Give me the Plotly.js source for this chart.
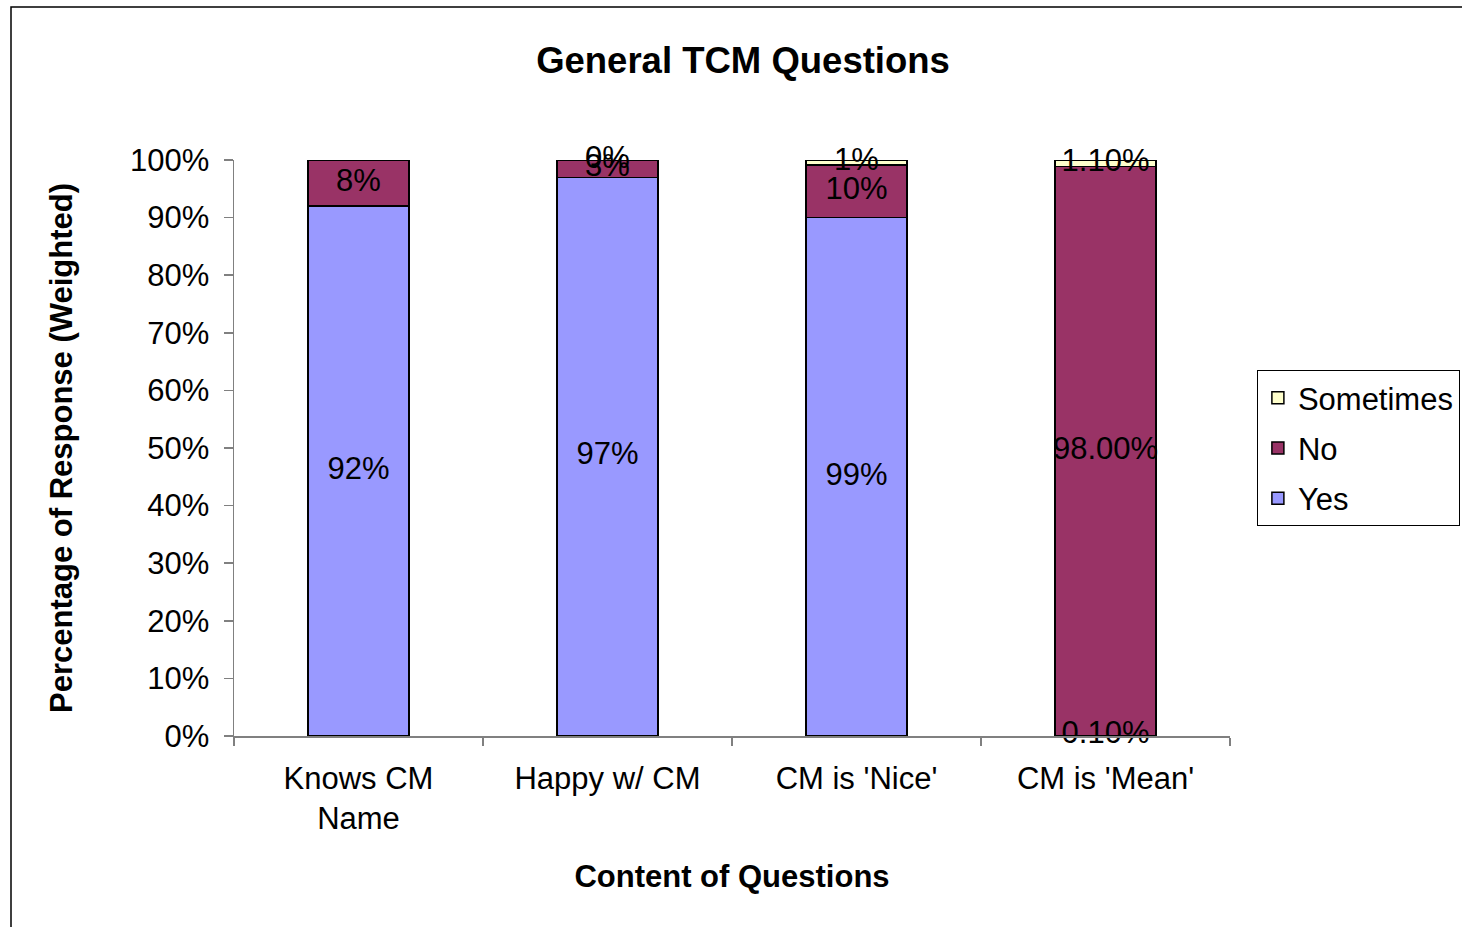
<!DOCTYPE html>
<html>
<head>
<meta charset="utf-8">
<script src="https://cdn.plot.ly/plotly-3.0.1.min.js"></script>
<style>
html,body{margin:0;padding:0;background:#fff;}
#chart{width:1462px;height:927px;}
</style>
</head>
<body>
<div id="chart"></div>
<script>
// ---- data ----
const categories = ["Knows CM<br>Name", "Happy w/ CM", "CM is 'Nice'", "CM is 'Mean'"];
const yesValues = [92, 97, 99, 0.10];
const noValues = [8, 3, 10, 98.00];
const sometimesValues = [0, 0, 1, 1.10];
const yesLabels = ["92%", "97%", "99%", "0.10%"];
const noLabels = ["8%", "3%", "10%", "98.00%"];
const sometimesLabels = ["", "0%", "1%", "1.10%"];
const yTickValues = [0, 10, 20, 30, 40, 50, 60, 70, 80, 90, 100];
const yTickLabels = ["0%", "10%", "20%", "30%", "40%", "50%", "60%", "70%", "80%", "90%", "100%"];

const FONT = "'Liberation Sans', Arial, 'DejaVu Sans', sans-serif";
const colYes = "#9999FF", colNo = "#993366", colSome = "#FFFFCC";
const FS = 31;

// midpoints of normalized (100% stacked) segments for value labels
const totals = categories.map((c, i) => yesValues[i] + noValues[i] + sometimesValues[i]);
const yesMid = [], noMid = [], someMid = [];
categories.forEach((c, i) => {
  const y = yesValues[i] / totals[i] * 100;
  const n = noValues[i] / totals[i] * 100;
  const s = sometimesValues[i] / totals[i] * 100;
  yesMid.push(y / 2);
  noMid.push(y + n / 2);
  someMid.push(y + n + s / 2);
});

const barCommon = {
  type: 'bar', x: categories, width: 0.405,
  hoverinfo: 'skip', textposition: 'none'
};
const txt = (y, t) => ({type: 'scatter', mode: 'text', x: categories, y: y, text: t, showlegend: false,
  hoverinfo: 'skip', textposition: 'middle center', textfont: {family: FONT, size: FS, color: '#000'}, cliponaxis: false});
const traces = [
  Object.assign({}, barCommon, {name: 'Yes', legendgroup: 'g1', legendrank: 3, y: yesValues, marker: {color: colYes, line: {color: '#000', width: 1.5}}}),
  Object.assign({}, barCommon, {name: 'No', legendgroup: 'g2', legendrank: 2, y: noValues, marker: {color: colNo, line: {color: '#000', width: 1.5}}}),
  Object.assign({}, barCommon, {name: 'Sometimes', legendgroup: 'g3', legendrank: 1, y: sometimesValues, marker: {color: colSome, line: {color: '#000', width: 1.5}}}),
  txt(yesMid, yesLabels), txt(noMid, noLabels), txt(someMid, sometimesLabels)
];

const layout = {
  width: 1462, height: 927,
  margin: {l: 234, r: 232, t: 160, b: 191, pad: 0, autoexpand: false},
  paper_bgcolor: '#fff', plot_bgcolor: '#fff',
  font: {family: FONT, size: FS, color: '#000'},
  barmode: 'stack', barnorm: 'percent',
  showlegend: true,
  title: {text: '<b>General TCM Questions</b>', font: {family: FONT, size: 36.5, color: '#000'},
          x: (743 - 234) / 996, xref: 'paper', xanchor: 'center', y: 1 - 60 / 927, yref: 'container', yanchor: 'middle'},
  xaxis: {
    type: 'category', range: [-0.5, 3.5], fixedrange: true,
    showline: true, linecolor: '#808080', linewidth: 1.5,
    ticks: 'outside', tickson: 'boundaries', ticklen: 8, tickcolor: '#808080', tickwidth: 1.5,
    ticklabelstandoff: 14,
    showgrid: false, zeroline: false,
    tickfont: {family: FONT, size: FS, color: '#000'},
    title: {text: '<b>Content of Questions</b>', font: {family: FONT, size: 31, color: '#000'}, standoff: 30}
  },
  yaxis: {
    range: [0, 100], fixedrange: true,
    tickvals: yTickValues, ticktext: yTickLabels,
    showline: true, linecolor: '#808080', linewidth: 1.5,
    ticks: 'outside', ticklen: 9, tickcolor: '#808080', tickwidth: 1.5,
    ticklabelstandoff: 8,
    showgrid: false, zeroline: false,
    tickfont: {family: FONT, size: FS, color: '#000'},
    title: {text: '<b>Percentage of Response (Weighted)</b>', font: {family: FONT, size: 31, color: '#000'}, standoff: 48}
  },
  legend: {
    x: 1.027, xanchor: 'left', y: 0.5, yanchor: 'middle',
    traceorder: 'grouped',
    bordercolor: '#000', borderwidth: 1, bgcolor: '#fff',
    font: {family: FONT, size: FS, color: '#000'},
    itemwidth: 30, tracegroupgap: 7
  },
  shapes: [{
    type: 'rect', xref: 'paper', yref: 'paper',
    x0: (11 - 234) / 996, x1: 1.4, y0: -0.5, y1: (736 - 7) / 576,
    line: {color: '#000', width: 1.5}, fillcolor: 'rgba(0,0,0,0)', layer: 'below'
  }]
};

Plotly.newPlot('chart', traces, layout, {displayModeBar: false, staticPlot: true});
</script>
</body>
</html>
